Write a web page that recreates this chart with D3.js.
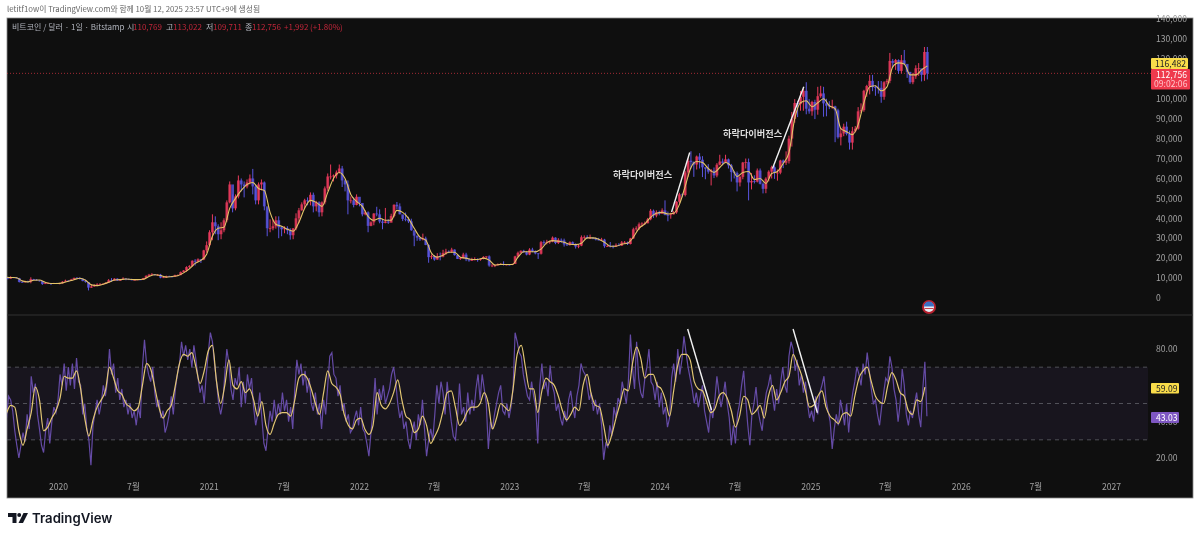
<!DOCTYPE html>
<html>
<head>
<meta charset="utf-8">
<title>비트코인 / 달러 - 1일 - Bitstamp</title>
<script src="https://d3js.org/d3.v7.min.js"></script>
<style>
body{ margin:0; background:#fff; }
svg{ filter:blur(0.35px); }
text{ font-family:"Noto Sans CJK KR","Noto Sans",sans-serif; }
</style>
</head>
<body>
<svg class="chart" width="1200" height="538"></svg>
<script>
//weekly candles in thousand USD, first week is 2019-08-25
var weekStart = "2019-08-25";
var closes = [
10.3,9.7,10.4,10.3,10.0,8.0,7.9,8.3,8.2,9.5,9.2,8.8,8.5,7.0,7.4,7.5,7.1,7.5,7.3,
7.4,8.2,8.7,8.6,9.3,10.1,9.9,9.7,8.5,8.0,5.2,5.8,6.2,6.8,6.9,7.1,7.7,8.9,8.7,9.7,8.7,9.4,9.7,9.4,9.3,9.1,9.1,9.3,9.2,10.0,11.1,11.7,11.9,11.6,11.7,10.2,10.4,11.0,10.8,10.7,11.4,11.5,13.0,13.8,15.5,16.0,18.7,18.2,19.4,19.3,23.9,26.5,
33,38,36,32,34,39,48,57,45,51,59,57,56,58,60,56,49,57,58,46,35,35,36,39,35.5,34.5,35,34,31.5,35,40,44,47,49,48.8,51.8,46,48,43,48,55,61,61,61.5,63,65,59,57,49,49,46.7,50.8,
47.7,42,43,36.2,38,42.4,42,38.4,37.7,38.4,37.8,41.2,46.8,46,42,39.7,39.5,38.5,34,31.3,30.3,29.4,29.9,26.6,20.5,21,19.3,20.9,20.8,22.6,23.3,23.2,24.3,21.5,19.6,20,21.8,19.4,18.8,19,19.4,19.3,19.6,20.6,20.9,16.3,16.3,16.4,17.1,17.1,16.7,16.8,
16.6,17.1,20.9,22.7,23.7,23,21.8,24.3,23.5,22.4,22.2,28,27.9,28.2,28.3,30.3,27.6,29.2,28.9,26.9,26.7,28,27,25.8,26.3,30.5,30.6,30.2,30.2,30,29.3,29,29.3,26,26,25.9,25.8,26.5,26.3,27.9,27.9,27.1,29.9,34.5,35,37,37.4,37.5,39.5,43.8,41.4,43,42.2,
44,41.7,41.6,42,43,48.3,52,51.7,63,68.9,68.3,67,71,69.4,65.6,64.9,63.4,64,61.5,66.9,68.5,67.8,69.6,66.6,63.2,62.7,58,60.8,68,68.2,58,58.7,58.4,64,57.3,54.8,59.9,63.4,65.6,62.8,62.9,69,67.9,68.7,80,89.9,97.9,97.3,101,104,95,93.7,
98.4,94.5,101.3,102.7,97.7,96.5,96.1,96.2,94.2,80.7,82.6,86,82.4,78,83.7,85,93.7,94.3,104,106.4,109,105.8,105.6,105.5,101,108.3,109,119,118,119.4,114,119.3,117.5,113.5,108.3,111.2,115.3,115.3,112,123.5,112.7
];
var highs = [
10.9,10.4,10.9,10.5,10.4,10.1,8.5,8.7,8.7,10.4,9.6,9.5,8.9,8.5,7.9,7.7,7.4,7.6,7.6,
7.6,8.4,9.2,8.9,9.6,10.2,10.5,10.4,9.6,9.2,8.0,6.9,6.9,7.4,7.5,7.3,7.8,9.5,10.0,9.9,9.9,9.6,10.4,10.0,9.8,9.7,9.4,9.4,9.4,10.1,11.4,12.1,12.5,12.0,12.0,12.1,10.6,11.2,11.2,10.9,11.7,11.8,13.3,14.0,15.9,16.5,18.9,19.5,19.9,19.6,24.2,28.4,
34,42,41,37,38,40,49,58.5,52,52,61.5,60,58.5,59.5,62,64.8,57,58,59.5,58.5,45,39.5,39.5,41,41,36,36,36,35,35,42.5,45.2,48,49.8,50.5,53,52.9,48.8,48.5,48.5,56,62.5,67,62,64,67,66.3,59.5,59,51,50.5,52,
48,47.5,44,43.5,38.5,42.6,45.8,44.5,39.8,45.2,39.5,42.3,47,48.2,47.5,41.5,42.9,40.8,39.8,32.3,31.4,30.3,32.3,30.8,27,21.9,21.5,22.5,22.8,24.2,24.7,23.9,25.2,24.4,21.8,20.6,22.7,22.7,19.9,20.2,20.4,19.9,19.7,21,20.9,21.4,17.2,16.8,17.3,17.4,18.4,16.9,
16.8,17.2,21.2,23.3,23.9,24.2,23.5,25,25.2,23.9,22.6,28.6,28.9,29.2,28.6,30.9,30.5,30,29.9,29.8,27.6,28.4,28.4,27.4,27.1,31.4,31.4,31.5,31.8,30.4,30.3,30.2,30.2,29.7,26.7,28.1,26.5,27.4,27.5,28.6,28.6,28.3,30.2,35.3,36,37.9,38,38.4,40.2,44.7,44.4,44,43.8,
45,49,43.4,42.8,43.8,48.6,52.8,52.5,63.9,70,73.7,68.5,71.5,72.7,71.2,65.5,67.2,64.7,65.5,67.7,71.9,70,71.9,70,67.3,63.8,63.5,61.4,68.3,70,70,62.7,61.6,65,65,58,60.6,64.1,66.4,66.5,64.5,69.4,69.5,73.6,81.5,93.4,99.8,98.9,103.9,105,108.3,99.8,
99,99.5,106,106.5,106,100,98.8,99.5,96.5,95,85.3,87.5,88.5,84,85.9,86.3,95.8,97.7,104.5,107,111.9,112,106.8,108.9,108.9,108.8,110,123,120,120,119.8,122,124.5,117,113.5,113,116.8,117.9,113.5,126,126
];
var lows = [
9.9,9.4,9.7,10.0,9.8,7.8,7.7,7.8,7.9,7.4,9.0,8.7,8.3,6.6,7.0,7.2,6.5,7.1,7.1,
6.9,7.3,8.2,8.2,8.5,9.2,9.6,9.3,8.4,7.7,3.8,5.1,5.6,5.9,6.6,6.5,7.0,7.6,8.1,8.8,8.6,8.6,9.3,8.9,9.1,8.9,8.9,9.0,9.0,9.1,10.6,10.9,11.6,11.3,11.1,9.9,10.0,10.2,10.6,10.4,10.6,11.2,11.4,12.9,13.2,14.8,15.8,16.3,18.1,17.6,19.0,22.7,
26,29,32,29,29.5,33,38,47.5,43,44,50,53.5,50.5,55,57,52,47,47,54,44,31,33,34,34.8,30,31,32.5,32,29.3,29.5,34,37.5,43.8,45,46.5,46.5,43,43.5,40.8,41,47,53.8,59.5,58.5,60,62.5,55.7,53.5,42,47.5,45.5,46.5,
46,41,41.5,33,36,36.5,41,37.5,34.5,37.5,37.2,38,40.5,44.5,42,38.6,38.5,37.6,33.7,26,28.7,28.6,28.9,26.5,17.7,19.5,18.7,19.2,18.9,20.4,21.7,22.5,22.7,21.3,19.6,19.1,19.8,18.5,18.2,18.6,18.9,18.2,18.7,19.4,20,15.7,15.5,15.5,16.3,16.7,16.3,16.4,
16.3,16.5,17.1,20.4,22.4,22.7,21.4,21.5,23,21.9,19.6,21.8,26.5,26.9,27.2,28,27,27.1,27.7,25.8,26.1,26.3,26.9,24.8,25,26,29.5,29.8,29.6,29.5,28.9,28.9,29,25.2,25.7,25.4,24.9,25.8,26,26.1,27.2,26.6,26.9,29.7,33.8,34.1,35.7,36.7,37.5,39,40.2,40.5,41.5,
42.6,41.5,38.5,39.8,41.9,42.3,47.7,50.5,51,60.8,65,60.8,64.5,65,60.7,59.6,62.4,56.5,60.2,60.6,66.6,66.6,68.5,65,58.4,60,53.5,56,59.6,65,49,54.5,57.5,58,57,52.5,52.6,58.5,60,59.8,58.9,62.1,65.2,66.8,67.5,76,88,90.8,94,94,92.2,92.5,
91.5,89.8,92,100.5,91,91.2,94.8,95,78.2,80,76.6,81.2,81.6,74.5,74.5,83.1,84.5,92.8,93.5,101,102.2,103.8,101.5,102.6,98,99.5,107.2,107.8,115.8,114.5,112.5,112.7,116.8,110.5,107.5,107.3,110,111.5,108.7,109,109.7
];
//yellow line on price, one value every two weeks
var priceMa = [
10.5,10.3,10.2,8.6,8.1,8.9,9.0,7.9,7.3,7.3,
7.6,8.4,9.2,9.9,8.9,6.6,6.2,6.9,7.9,9.0,9.2,9.5,9.3,9.2,9.4,10.8,11.7,11.3,10.5,10.8,11.2,12.6,14.6,17.4,18.9,22.0,
31,35,35.5,45,50,54,57,58,55,54,43,37,36,34.5,33.5,38,45,49,48,46,53,60,63,60,52,48.5,
46,41,39,40,39,39,44,43,40,35,30.5,29,22.5,20.5,21.5,23,23,20.5,20,19.3,19.3,20,19,16.5,16.9,16.8,
16.8,20.5,23.2,23.2,23.2,24.5,27.8,28.8,28.5,28,27,26.8,27.5,30.2,30.2,29.5,28,26,26,27,27.5,30.5,35,37.2,40.5,42.5,
43,42.2,42.5,47,56,65.5,68.5,68,65,63,65.5,68,66,61,63,63.5,59.5,60,57.5,62.5,63.5,67.5,73,90,98,99,
96,98,100,96.5,95,85,83.5,82,87,98,106,106.5,104,106,116,118,117.5,112,112,114.5,116.5
];

//RSI one value every 5 days, first one is 2019-08-29
var rsiStart = "2019-08-29";
var rsiValues = [
42,54,52,46,35,27,20,27,34,29,44,36,65,56,61,44,36,27,23,35,
42,28,40,48,45,52,66,60,72,57,70,60,72,58,75,62,60,44,50,36,
30,16,38,45,52,44,50,60,54,62,80,66,72,56,64,52,58,48,52,44,
50,42,46,38,48,42,70,85,72,66,62,70,56,48,52,42,46,34,38,44,
54,44,58,66,72,84,76,82,74,80,70,82,74,64,56,60,50,66,78,89,
84,72,62,50,44,50,66,80,72,58,52,64,60,70,48,62,50,66,58,64,
48,38,44,56,42,28,24,36,46,40,52,42,50,44,56,46,52,40,48,36,
58,74,66,72,60,68,56,64,50,46,56,44,50,36,52,44,60,76,78,66,
64,54,60,46,50,40,44,34,36,42,46,38,48,36,34,28,21,34,46,64,
44,58,52,60,50,54,58,66,70,62,50,42,46,36,40,30,25,34,40,30,
44,38,52,36,21,30,36,30,44,60,50,62,56,44,62,50,40,32,30,42,
61,44,48,40,56,44,52,46,58,66,52,66,58,50,25,40,36,44,50,56,
60,46,44,50,42,48,58,89,84,78,76,66,60,54,52,62,54,48,28,60,
72,58,62,54,71,60,56,46,50,42,38,46,40,52,57,48,42,54,60,72,
68,66,60,52,56,46,52,44,50,38,19,28,26,38,32,48,42,53,50,62,
56,50,62,88,70,58,84,64,56,53,64,70,80,62,60,52,62,48,56,44,
48,37,42,64,72,62,80,66,74,87,78,70,64,58,50,56,48,54,60,46,
40,34,48,42,52,65,56,48,54,62,50,42,27,38,28,44,50,60,68,52,
38,27,44,50,59,46,40,35,48,56,60,66,54,46,58,50,62,70,60,56,
76,84,80,68,74,60,66,56,62,50,42,46,40,54,44,56,60,65,52,46,
40,25,36,44,38,52,46,38,50,34,48,56,62,70,66,60,72,66,78,68,
58,50,52,44,38,48,56,64,62,76,70,58,52,40,50,69,60,44,38,46,
42,50,56,44,37,58,73,43
];
//RSI moving average, one value every 10 days
var rsiMa = [
44.6,49,48,35,27,36,45,59,52,35,37,42,46,53,65,64,64,68,58,42,
32,41,48,52,57,70,64,57,55,50,48,46,48,60,72,69,59,48,42,46,
49,60,72,77,76,78,70,61,68,79,82,62,50,60,74,60,58,62,56,58,
52,43,51,38,33,39,44,45,45,43,52,64,66,64,58,50,44,56,68,61,
59,55,44,38,36,41,42,36,33,38,56,49,47,50,56,63,52,43,41,34,
36,43,38,28,32,37,46,56,57,48,38,41,46,48,48,50,56,50,36,42,
50,48,46,58,77,82,70,58,58,45,57,64,62,60,54,46,41,44,48,46,
60,66,55,49,48,38,27,33,42,50,58,57,72,81,75,64,66,66,60,58,
52,43,57,71,77,77,74,62,58,57,51,45,47,54,56,53,46,37,43,54,
52,44,46,49,42,54,60,52,56,62,65,77,72,66,57,48,49,54,57,48,
43,41,39,44,45,43,54,64,68,70,62,54,51,50,60,67,63,56,54,46,
44,52,51,59
];

var priceTicks = [140,130,120,110,100,90,80,70,60,50,40,30,20,10,0];
var rsiTicks = [80,40,20];
var rsiBands = [70,50,30];
var timeTicks = ["2020-01-01","2020-07-01","2021-01-01","2021-07-01","2022-01-01","2022-07-01","2023-01-01","2023-07-01","2024-01-01","2024-07-01","2025-01-01","2025-07-01","2026-01-01","2026-07-01","2027-01-01"];

//hand drawn divergence lines: dates and values
var divDates = [["2024-01-30","2024-03-14"],["2024-10-01","2024-12-16"]];
var divPrices = [[43.2,73],[65,106]];
var divRsiDates = [["2024-03-09","2024-05-06"],["2024-11-20","2025-01-18"]];
var divRsi = [[91,46.4],[91,44.9]];
var divLabel = "하락다이버전스";

var lastPrice = 112.756;
var lastMa = "116,482";
var lastRsiMa = "59.09";
var lastRsi = "43.03";

var svg = d3.select(".chart");
var day = 86400000;
var parse = d3.utcParse("%Y-%m-%d");

var xScale = d3.scaleUtc()
	.domain([parse("2020-01-01"), parse("2027-01-01")])
	.range([58, 1111]);
var yPrice = d3.scaleLinear().domain([0, 130]).range([298, 39]);
var yRsi = d3.scaleLinear().domain([20, 80]).range([458, 349]);

var plotLeft = 7, plotRight = 1193, plotTop = 18, plotBottom = 498, paneLine = 315, bandRight = 1148;

//background
svg.append("rect").attr("x", plotLeft).attr("y", plotTop)
	.attr("width", plotRight - plotLeft).attr("height", plotBottom - plotTop)
	.attr("fill", "#0f0f0f").attr("stroke", "#8a8a8a").attr("stroke-width", 0.8);
svg.append("line").attr("x1", plotLeft).attr("x2", plotRight)
	.attr("y1", paneLine).attr("y2", paneLine).attr("stroke", "#333");

svg.append("clipPath").attr("id", "plot").append("rect")
	.attr("x", plotLeft).attr("y", plotTop).attr("width", plotRight - plotLeft).attr("height", plotBottom - plotTop);

//header
svg.append("text").attr("x", 7).attr("y", 12).attr("font-size", 7.8).attr("fill", "#666")
	.text("letitf1ow이 TradingView.com와 함께 10월 12, 2025 23:57 UTC+9에 생성됨");

var legend = svg.append("text").attr("y", 30).attr("font-size", 8);
var legendParts = [
	[12, "비트코인 / 달러 · 1일 · Bitstamp", "#b2b5be"],
	[127, "시", "#b2b5be"], [133, "110,769", "#c2263a"],
	[166, "고", "#b2b5be"], [173, "113,022", "#c2263a"],
	[206, "저", "#b2b5be"], [213, "109,711", "#c2263a"],
	[245, "종", "#b2b5be"], [252, "112,756", "#c2263a"],
	[284, "+1,992", "#c2263a"], [310, "(+1.80%)", "#c2263a"]
];
legend.selectAll("tspan").data(legendParts).enter().append("tspan")
	.attr("x", function(d){ return d[0]; })
	.attr("fill", function(d){ return d[2]; })
	.text(function(d){ return d[1]; });

//RSI band
svg.append("rect").attr("x", plotLeft).attr("y", yRsi(rsiBands[0]))
	.attr("width", bandRight - plotLeft).attr("height", yRsi(rsiBands[2]) - yRsi(rsiBands[0]))
	.attr("fill", "#7e57c2").attr("opacity", 0.09);
svg.selectAll(".band").data(rsiBands).enter().append("line")
	.attr("class", "band")
	.attr("x1", plotLeft).attr("x2", bandRight)
	.attr("y1", function(d){ return yRsi(d); }).attr("y2", function(d){ return yRsi(d); })
	.attr("stroke", "#6a6b72").attr("stroke-width", 0.7).attr("stroke-dasharray", "4 4");

//last price line
svg.append("line").attr("x1", plotLeft).attr("x2", 1151)
	.attr("y1", yPrice(lastPrice)).attr("y2", yPrice(lastPrice))
	.attr("stroke", "#c8323f").attr("stroke-width", 0.8).attr("stroke-dasharray", "1 2");

var marks = svg.append("g").attr("clip-path", "url(#plot)");

//candles
var t0 = parse(weekStart).getTime();
var candles = closes.map(function(c, i){
	return {date: new Date(t0 + i * 7 * day), open: i ? closes[i - 1] : c, close: c, high: highs[i], low: lows[i]};
});
function candleColor(d){ return d.close >= d.open ? "#ea3a5c" : "#5a55e0"; }

marks.selectAll(".wick").data(candles).enter().append("line")
	.attr("class", "wick")
	.attr("x1", function(d){ return xScale(d.date); }).attr("x2", function(d){ return xScale(d.date); })
	.attr("y1", function(d){ return yPrice(d.high); }).attr("y2", function(d){ return yPrice(d.low); })
	.attr("stroke", candleColor).attr("stroke-width", 1);
marks.selectAll(".body").data(candles).enter().append("rect")
	.attr("class", "body")
	.attr("x", function(d){ return xScale(d.date) - 1.4; })
	.attr("width", 2.8)
	.attr("y", function(d){ return yPrice(Math.max(d.open, d.close)); })
	.attr("height", function(d){ return Math.max(0.8, Math.abs(yPrice(d.open) - yPrice(d.close))); })
	.attr("fill", candleColor).attr("opacity", 0.8);

var maLine = d3.line()
	.x(function(d){ return xScale(d[0]); })
	.y(function(d){ return d[1]; })
	.curve(d3.curveMonotoneX);

marks.append("path")
	.attr("d", maLine(priceMa.map(function(v, i){ return [new Date(t0 + i * 14 * day), yPrice(v)]; })))
	.attr("fill", "none").attr("stroke", "#e3c468").attr("stroke-width", 1.1);

//RSI
var r0 = parse(rsiStart).getTime();
marks.append("path")
	.attr("d", d3.line()
		.x(function(d, i){ return xScale(new Date(r0 + i * 5 * day)); })
		.y(function(d){ return yRsi(d); })(rsiValues))
	.attr("fill", "none").attr("stroke", "#654ba6").attr("stroke-width", 1.2);
marks.append("path")
	.attr("d", maLine(rsiMa.map(function(v, i){ return [new Date(r0 + i * 10 * day), yRsi(v)]; })))
	.attr("fill", "none").attr("stroke", "#e3c773").attr("stroke-width", 1.2);

//divergence lines
divDates.forEach(function(d, i){
	svg.append("line")
		.attr("x1", xScale(parse(d[0]))).attr("x2", xScale(parse(d[1])))
		.attr("y1", yPrice(divPrices[i][0])).attr("y2", yPrice(divPrices[i][1]))
		.attr("stroke", "#f2f2f2").attr("stroke-width", 1.4);
});
divRsiDates.forEach(function(d, i){
	svg.append("line")
		.attr("x1", xScale(parse(d[0]))).attr("x2", xScale(parse(d[1])))
		.attr("y1", yRsi(divRsi[i][0])).attr("y2", yRsi(divRsi[i][1]))
		.attr("stroke", "#f2f2f2").attr("stroke-width", 1.4);
});
svg.selectAll(".divLabel").data([[613, 178], [723, 137]]).enter().append("text")
	.attr("class", "divLabel")
	.attr("x", function(d){ return d[0]; }).attr("y", function(d){ return d[1]; })
	.attr("font-size", 9.2).attr("font-weight", 700).attr("fill", "#dedede")
	.text(divLabel);

//axes
var bottomAxis = d3.axisBottom(xScale)
	.tickValues(timeTicks.map(parse))
	.tickSize(0)
	.tickFormat(function(d){ return d.getUTCMonth() === 0 ? d.getUTCFullYear() : "7월"; });
var xAxisG = svg.append("g").attr("transform", "translate(0,479)").call(bottomAxis);
xAxisG.select(".domain").remove();
xAxisG.selectAll("text").attr("font-size", 8.6).attr("fill", "#a0a0a0").attr("dy", "0.9em");

var priceAxis = d3.axisRight(yPrice)
	.tickValues(priceTicks)
	.tickSize(0)
	.tickPadding(0)
	.tickFormat(function(d){ return d3.format(",")(d * 1000); });
var priceG = svg.append("g").attr("transform", "translate(1156,0)").call(priceAxis);
priceG.select(".domain").remove();
priceG.selectAll("text").attr("font-size", 8.6).attr("fill", "#a0a0a0");

var rsiAxis = d3.axisRight(yRsi)
	.tickValues(rsiTicks)
	.tickSize(0)
	.tickPadding(0)
	.tickFormat(d3.format(".2f"));
var rsiG = svg.append("g").attr("transform", "translate(1156,0)").call(rsiAxis);
rsiG.select(".domain").remove();
rsiG.selectAll("text").attr("font-size", 8.6).attr("fill", "#a0a0a0");

//value badges
function badge(x, y, w, h, fill){
	svg.append("rect").attr("x", x).attr("y", y).attr("width", w).attr("height", h).attr("rx", 1).attr("fill", fill);
}
function badgeText(x, y, txt, fill){
	svg.append("text").attr("x", x).attr("y", y).attr("font-size", 8.6).attr("fill", fill).text(txt);
}
badge(1151, 58, 37, 11, "#f9dc4a");
badgeText(1155, 66.5, lastMa, "#222");
badge(1151, 69, 39, 20.5, "#ef3a4d");
badgeText(1156, 77.5, d3.format(",")(lastPrice * 1000), "#fff");
badgeText(1154, 87, "09:02:06", "#ffc4ca");
badge(1151, 383, 28, 10.5, "#f9dc4a");
badgeText(1156, 391.5, lastRsiMa, "#222");
badge(1151, 412, 28, 11, "#7e57c2");
badgeText(1156, 420.7, lastRsi, "#fff");

//flag event icon
var flag = svg.append("g").attr("transform", "translate(929,307)");
flag.append("circle").attr("r", 7).attr("fill", "#b5202e");
flag.append("circle").attr("r", 5).attr("fill", "#e8edf5");
flag.append("path").attr("d", "M-5,-0.5A5,5 0 0 1 5,-0.5Z").attr("fill", "#3a6fc4");
flag.append("rect").attr("x", -4.5).attr("y", 1).attr("width", 9).attr("height", 1).attr("fill", "#c9404c");

//tradingview logo
var logo = svg.append("g").attr("transform", "translate(8,513)").attr("fill", "#131722");
logo.append("path").attr("d", "M0,0H8.5V10H4.5V4H0Z");
logo.append("circle").attr("cx", 11.2).attr("cy", 2).attr("r", 2);
logo.append("path").attr("d", "M15.5,0H20L15,10H10.5Z");
svg.append("text").attr("x", 32).attr("y", 523).attr("style", "font-family:Inter")
	.attr("font-size", 13.2).attr("font-weight", 600).attr("fill", "#131722").text("TradingView");
</script>
</body>
</html>
